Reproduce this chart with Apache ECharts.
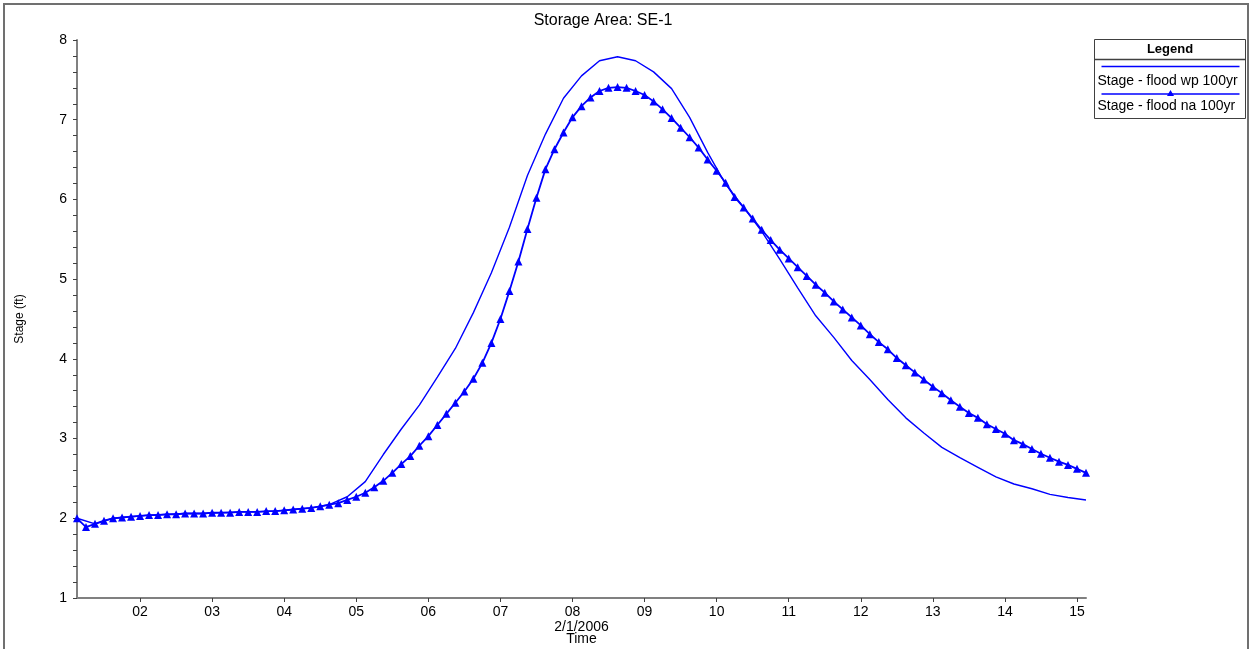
<!DOCTYPE html>
<html>
<head>
<meta charset="utf-8">
<script src="https://cdn.jsdelivr.net/npm/echarts@6/dist/echarts.min.js"></script>
<style>
  html, body { margin: 0; padding: 0; background: #fff; }
  #chart { width: 1254px; height: 649px; }
</style>
</head>
<body>
<div id="chart"></div>
<script>
// hours of 2/1/2006
var hourTicks = [2, 3, 4, 5, 6, 7, 8, 9, 10, 11, 12, 13, 14, 15];

// Stage - flood na 100yr, every 7.5 min from 01:07:30
var naStart = 1.125;
var naStep = 0.125;
var naStage = [
    2.00, 1.89, 1.93, 1.97, 2.00, 2.01, 2.02,
    2.03, 2.04, 2.04, 2.05, 2.05, 2.06, 2.06, 2.06,
    2.07, 2.07, 2.07, 2.08, 2.08, 2.08, 2.09, 2.09,
    2.10, 2.11, 2.12, 2.13, 2.15, 2.17, 2.19, 2.23,
    2.27, 2.32, 2.39, 2.47, 2.57, 2.68, 2.78, 2.91,
    3.03, 3.17, 3.31, 3.45, 3.59, 3.75, 3.95, 4.20,
    4.50, 4.85, 5.22, 5.63, 6.02, 6.38, 6.63, 6.84,
    7.03, 7.17, 7.28, 7.36, 7.40, 7.41, 7.40, 7.36,
    7.31, 7.23, 7.13, 7.02, 6.90, 6.78, 6.65, 6.50,
    6.36, 6.21, 6.03, 5.90, 5.76, 5.62, 5.49, 5.37,
    5.26, 5.15, 5.04, 4.93, 4.83, 4.72, 4.62, 4.52,
    4.42, 4.31, 4.21, 4.12, 4.01, 3.92, 3.83, 3.74,
    3.65, 3.57, 3.48, 3.40, 3.32, 3.26, 3.18, 3.12,
    3.06, 2.98, 2.93, 2.87, 2.81, 2.76, 2.71, 2.67,
    2.62, 2.57
];

// Stage - flood wp 100yr, every 15 min from 01:07:30
var wpStart = 1.125;
var wpStep = 0.25;
var wpStage = [
    2.00, 1.93, 2.00, 2.02,
    2.04, 2.05, 2.06, 2.06,
    2.07, 2.08, 2.08, 2.09,
    2.11, 2.13, 2.17, 2.27,
    2.46, 2.80, 3.12, 3.42,
    3.77, 4.13, 4.58, 5.08,
    5.65, 6.30, 6.82, 7.27,
    7.55, 7.74, 7.79, 7.74,
    7.60, 7.39, 7.03, 6.59,
    6.19, 5.90, 5.60, 5.25,
    4.89, 4.54, 4.27, 3.98,
    3.74, 3.49, 3.26, 3.07,
    2.89, 2.76, 2.64, 2.52,
    2.43, 2.37, 2.30, 2.26,
    2.23
];

var seriesNames = ['Stage - flood wp 100yr', 'Stage - flood na 100yr'];

function pairs(start, step, values) {
    var out = [];
    values.forEach(function(v, i) {
        out.push([start + i * step, v]);
    });
    return out;
}

var blue = '#0000ff';
var font = '"Liberation Sans", Arial, sans-serif';

var myChart = echarts.init(document.getElementById('chart'));

var option = {
    animation: false,
    backgroundColor: '#fff',
    title: {
        text: 'Storage Area: SE-1',
        left: 598,
        textAlign: 'center',
        top: 8,
        textStyle: { fontFamily: font, fontSize: 16, fontWeight: 'normal', color: '#000' }
    },
    grid: {
        left: 77,
        right: 168,
        top: 40,
        bottom: 51,
        outerBoundsMode: 'none',
        containLabel: false
    },
    xAxis: {
        type: 'value',
        min: 1.125,
        max: 15.125,
        name: '2/1/2006\nTime',
        nameLocation: 'middle',
        nameGap: 23,
        nameMoveOverlap: false,
        nameTextStyle: { fontFamily: font, fontSize: 14, color: '#000', lineHeight: 12 },
        axisLine: { lineStyle: { color: '#808080', width: 2 } },
        axisTick: {
            show: true,
            length: 4,
            customValues: hourTicks,
            lineStyle: { color: '#404040', width: 1 }
        },
        axisLabel: {
            customValues: hourTicks,
            margin: 7,
            fontFamily: font,
            fontSize: 14,
            color: '#000',
            formatter: function(v) {
                return (v < 10 ? '0' : '') + v;
            }
        },
        splitLine: { show: false }
    },
    yAxis: {
        type: 'value',
        min: 1,
        max: 8,
        interval: 1,
        name: 'Stage (ft)',
        nameLocation: 'middle',
        nameGap: 51,
        nameMoveOverlap: false,
        nameTextStyle: { fontFamily: font, fontSize: 12, color: '#000' },
        axisLine: { show: true, lineStyle: { color: '#808080', width: 2 } },
        axisTick: { show: true, length: 4, lineStyle: { color: '#404040', width: 1 } },
        minorTick: { show: true, splitNumber: 5, length: 4, lineStyle: { color: '#404040', width: 1 } },
        axisLabel: { margin: 10, fontFamily: font, fontSize: 14, color: '#000' },
        splitLine: { show: false }
    },
    series: [
        {
            name: seriesNames[0],
            type: 'line',
            data: pairs(wpStart, wpStep, wpStage),
            showSymbol: false,
            symbol: 'none',
            lineStyle: { color: blue, width: 1.4 },
            itemStyle: { color: blue }
        },
        {
            name: seriesNames[1],
            type: 'line',
            data: pairs(naStart, naStep, naStage),
            symbol: 'triangle',
            symbolSize: 8,
            lineStyle: { color: blue, width: 1.8 },
            itemStyle: { color: blue }
        }
    ],
    graphic: [
        // outer frame
        {
            type: 'rect',
            shape: { x: 4, y: 4, width: 1244, height: 660 },
            style: { fill: null, stroke: '#707070', lineWidth: 2 },
            silent: true
        },
        // legend box
        {
            type: 'group',
            left: 1092,
            top: 39,
            children: [
                {
                    type: 'rect',
                    shape: { x: 0, y: 0, width: 151, height: 79 },
                    style: { fill: '#fff', stroke: '#404040', lineWidth: 1 }
                },
                {
                    type: 'line',
                    shape: { x1: 0, y1: 20, x2: 151, y2: 20 },
                    style: { stroke: '#404040', lineWidth: 1.5 }
                },
                {
                    type: 'text',
                    x: 75.5,
                    y: 10,
                    style: {
                        text: 'Legend',
                        fill: '#000',
                        font: 'bold 13px ' + font,
                        textAlign: 'center',
                        textVerticalAlign: 'middle'
                    }
                },
                {
                    type: 'line',
                    shape: { x1: 7, y1: 27, x2: 145, y2: 27 },
                    style: { stroke: blue, lineWidth: 1.4 }
                },
                {
                    type: 'text',
                    x: 3,
                    y: 41.5,
                    style: {
                        text: seriesNames[0],
                        fill: '#000',
                        font: '14px ' + font,
                        textVerticalAlign: 'middle'
                    }
                },
                {
                    type: 'line',
                    shape: { x1: 7, y1: 54.5, x2: 145, y2: 54.5 },
                    style: { stroke: blue, lineWidth: 1.4 }
                },
                {
                    type: 'polygon',
                    shape: { points: [[76, 50.5], [72.5, 56.5], [79.5, 56.5]] },
                    style: { fill: blue }
                },
                {
                    type: 'text',
                    x: 3,
                    y: 67,
                    style: {
                        text: seriesNames[1],
                        fill: '#000',
                        font: '14px ' + font,
                        textVerticalAlign: 'middle'
                    }
                }
            ]
        }
    ]
};

myChart.setOption(option);
</script>
</body>
</html>
